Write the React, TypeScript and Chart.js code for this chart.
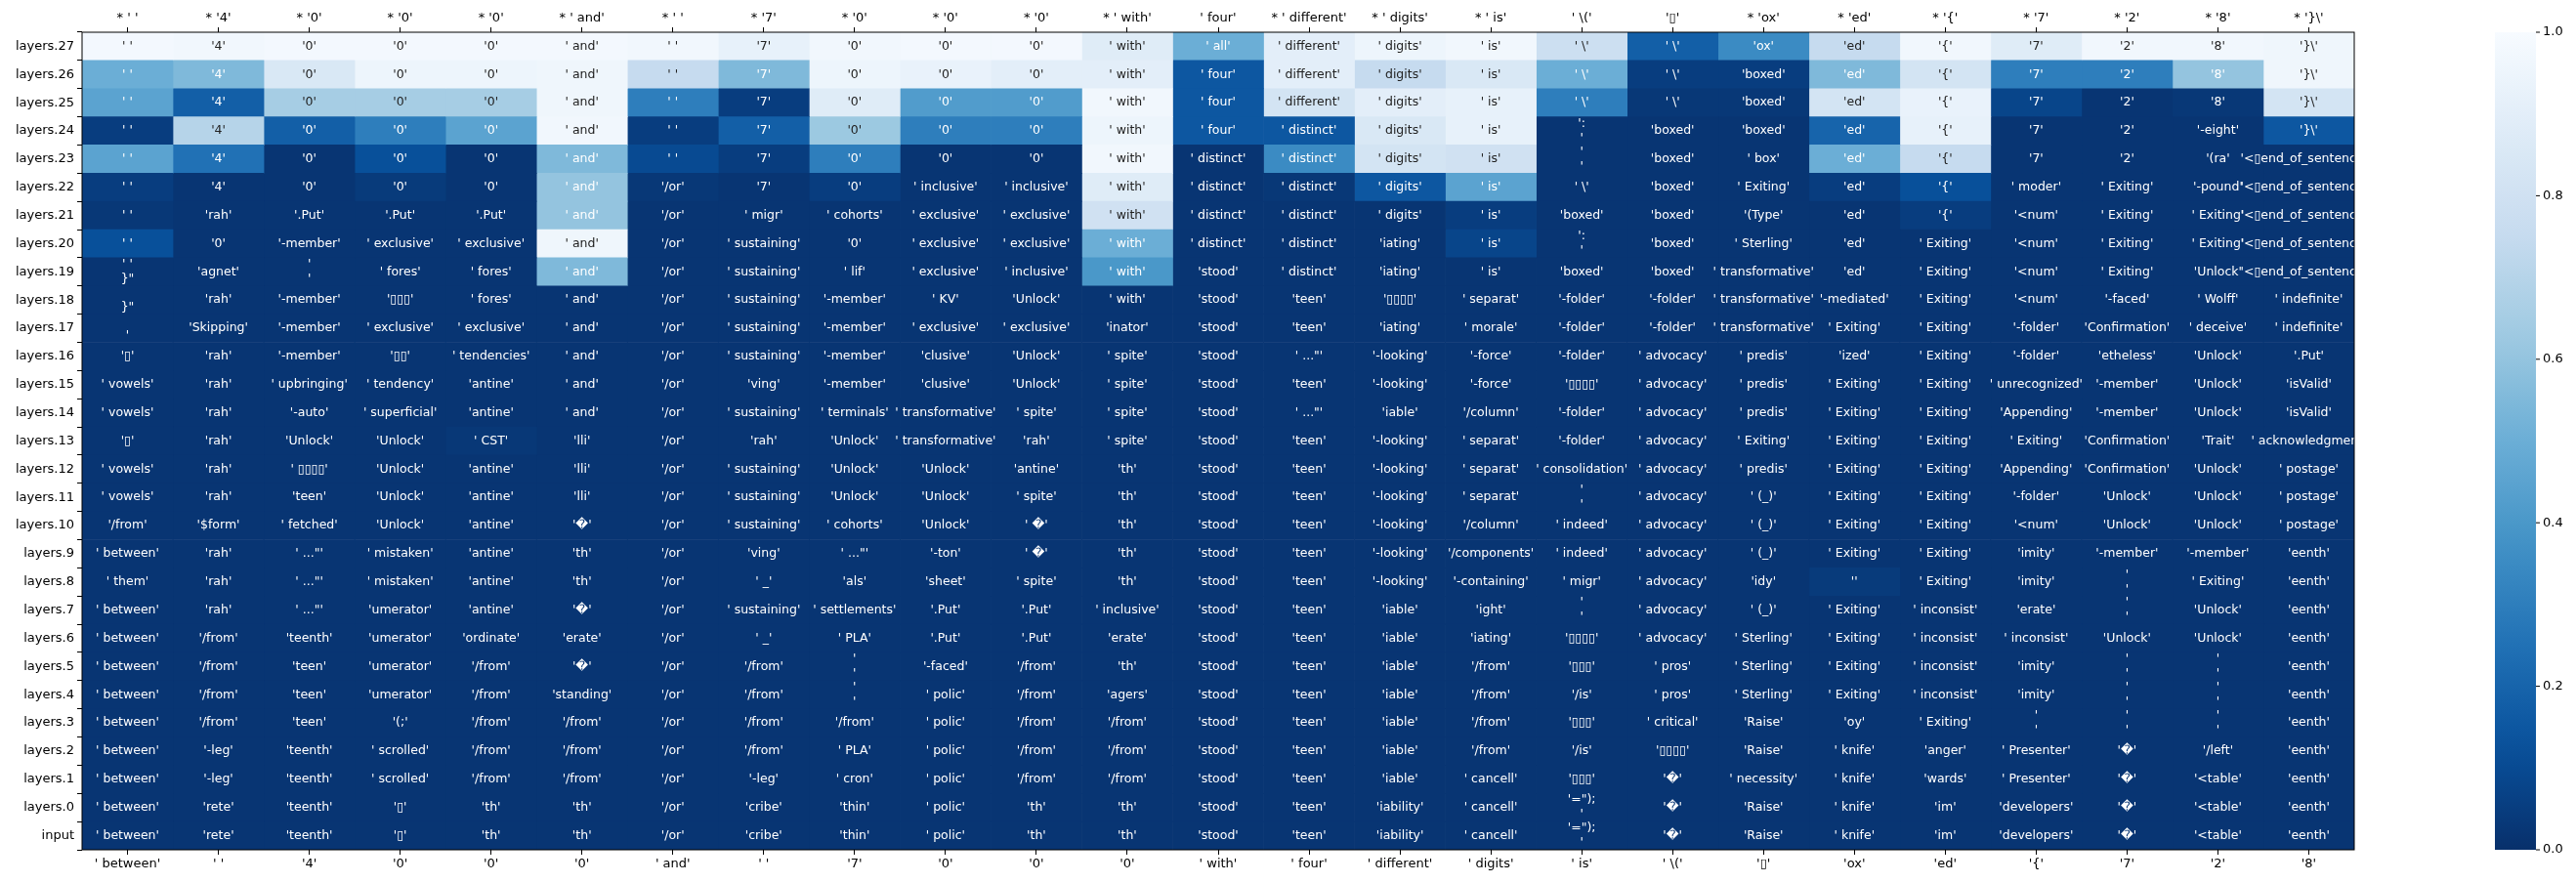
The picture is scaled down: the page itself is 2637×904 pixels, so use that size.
import { useEffect, useRef } from "react";
import { Chart, registerables } from "chart.js";

Chart.register(...registerables);

// linhas de cima para baixo
const ROWS = [
  "layers.27", "layers.26", "layers.25", "layers.24", "layers.23", "layers.22", "layers.21",
  "layers.20", "layers.19", "layers.18", "layers.17", "layers.16", "layers.15", "layers.14",
  "layers.13", "layers.12", "layers.11", "layers.10", "layers.9", "layers.8", "layers.7",
  "layers.6", "layers.5", "layers.4", "layers.3", "layers.2", "layers.1", "layers.0", "input",
];

const TOP_LABELS = [
  "* ' '", "* '4'", "* '0'", "* '0'", "* '0'", "* ' and'", "* ' '", "* '7'", "* '0'", "* '0'",
  "* '0'", "* ' with'", "' four'", "* ' different'", "* ' digits'", "* ' is'", "' \\('", "'▯'",
  "* 'ox'", "* 'ed'", "* '{'", "* '7'", "* '2'", "* '8'", "* '}\\'",
];

const BOTTOM_LABELS = [
  "' between'", "' '", "'4'", "'0'", "'0'", "'0'", "' and'", "' '", "'7'", "'0'", "'0'", "'0'",
  "' with'", "' four'", "' different'", "' digits'", "' is'", "' \\('", "'▯'", "'ox'", "'ed'",
  "'{'", "'7'", "'2'", "'8'",
];

const NL = "'\n'";

const TOKENS: string[][] = [
  ["' '", "'4'", "'0'", "'0'", "'0'", "' and'", "' '", "'7'", "'0'", "'0'", "'0'", "' with'", "' all'", "' different'", "' digits'", "' is'", "' \\'", "' \\'", "'ox'", "'ed'", "'{'", "'7'", "'2'", "'8'", "'}\\'"],
  ["' '", "'4'", "'0'", "'0'", "'0'", "' and'", "' '", "'7'", "'0'", "'0'", "'0'", "' with'", "' four'", "' different'", "' digits'", "' is'", "' \\'", "' \\'", "'boxed'", "'ed'", "'{'", "'7'", "'2'", "'8'", "'}\\'"],
  ["' '", "'4'", "'0'", "'0'", "'0'", "' and'", "' '", "'7'", "'0'", "'0'", "'0'", "' with'", "' four'", "' different'", "' digits'", "' is'", "' \\'", "' \\'", "'boxed'", "'ed'", "'{'", "'7'", "'2'", "'8'", "'}\\'"],
  ["' '", "'4'", "'0'", "'0'", "'0'", "' and'", "' '", "'7'", "'0'", "'0'", "'0'", "' with'", "' four'", "' distinct'", "' digits'", "' is'", "':\n'", "'boxed'", "'boxed'", "'ed'", "'{'", "'7'", "'2'", "'-eight'", "'}\\'"],
  ["' '", "'4'", "'0'", "'0'", "'0'", "' and'", "' '", "'7'", "'0'", "'0'", "'0'", "' with'", "' distinct'", "' distinct'", "' digits'", "' is'", NL, "'boxed'", "' box'", "'ed'", "'{'", "'7'", "'2'", "'(ra'", "'<▯end_of_sentence>'"],
  ["' '", "'4'", "'0'", "'0'", "'0'", "' and'", "'/or'", "'7'", "'0'", "' inclusive'", "' inclusive'", "' with'", "' distinct'", "' distinct'", "' digits'", "' is'", "' \\'", "'boxed'", "' Exiting'", "'ed'", "'{'", "' moder'", "' Exiting'", "'-pound'", "'<▯end_of_sentence>'"],
  ["' '", "'rah'", "'.Put'", "'.Put'", "'.Put'", "' and'", "'/or'", "' migr'", "' cohorts'", "' exclusive'", "' exclusive'", "' with'", "' distinct'", "' distinct'", "' digits'", "' is'", "'boxed'", "'boxed'", "'(Type'", "'ed'", "'{'", "'<num'", "' Exiting'", "' Exiting'", "'<▯end_of_sentence>'"],
  ["' '", "'0'", "'-member'", "' exclusive'", "' exclusive'", "' and'", "'/or'", "' sustaining'", "'0'", "' exclusive'", "' exclusive'", "' with'", "' distinct'", "' distinct'", "'iating'", "' is'", "':\n'", "'boxed'", "' Sterling'", "'ed'", "' Exiting'", "'<num'", "' Exiting'", "' Exiting'", "'<▯end_of_sentence>'"],
  ["' '\n}\"", "'agnet'", NL, "' fores'", "' fores'", "' and'", "'/or'", "' sustaining'", "' lif'", "' exclusive'", "' inclusive'", "' with'", "'stood'", "' distinct'", "'iating'", "' is'", "'boxed'", "'boxed'", "' transformative'", "'ed'", "' Exiting'", "'<num'", "' Exiting'", "'Unlock'", "'<▯end_of_sentence>'"],
  ["\n}\"", "'rah'", "'-member'", "'▯▯▯'", "' fores'", "' and'", "'/or'", "' sustaining'", "'-member'", "' KV'", "'Unlock'", "' with'", "'stood'", "'teen'", "'▯▯▯▯'", "' separat'", "'-folder'", "'-folder'", "' transformative'", "'-mediated'", "' Exiting'", "'<num'", "'-faced'", "' Wolff'", "' indefinite'"],
  ["\n'", "'Skipping'", "'-member'", "' exclusive'", "' exclusive'", "' and'", "'/or'", "' sustaining'", "'-member'", "' exclusive'", "' exclusive'", "'inator'", "'stood'", "'teen'", "'iating'", "' morale'", "'-folder'", "'-folder'", "' transformative'", "' Exiting'", "' Exiting'", "'-folder'", "'Confirmation'", "' deceive'", "' indefinite'"],
  ["'▯'", "'rah'", "'-member'", "'▯▯'", "' tendencies'", "' and'", "'/or'", "' sustaining'", "'-member'", "'clusive'", "'Unlock'", "' spite'", "'stood'", "' ...\"'", "'-looking'", "'-force'", "'-folder'", "' advocacy'", "' predis'", "'ized'", "' Exiting'", "'-folder'", "'etheless'", "'Unlock'", "'.Put'"],
  ["' vowels'", "'rah'", "' upbringing'", "' tendency'", "'antine'", "' and'", "'/or'", "'ving'", "'-member'", "'clusive'", "'Unlock'", "' spite'", "'stood'", "'teen'", "'-looking'", "'-force'", "'▯▯▯▯'", "' advocacy'", "' predis'", "' Exiting'", "' Exiting'", "' unrecognized'", "'-member'", "'Unlock'", "'isValid'"],
  ["' vowels'", "'rah'", "'-auto'", "' superficial'", "'antine'", "' and'", "'/or'", "' sustaining'", "' terminals'", "' transformative'", "' spite'", "' spite'", "'stood'", "' ...\"'", "'iable'", "'/column'", "'-folder'", "' advocacy'", "' predis'", "' Exiting'", "' Exiting'", "'Appending'", "'-member'", "'Unlock'", "'isValid'"],
  ["'▯'", "'rah'", "'Unlock'", "'Unlock'", "' CST'", "'lli'", "'/or'", "'rah'", "'Unlock'", "' transformative'", "'rah'", "' spite'", "'stood'", "'teen'", "'-looking'", "' separat'", "'-folder'", "' advocacy'", "' Exiting'", "' Exiting'", "' Exiting'", "' Exiting'", "'Confirmation'", "'Trait'", "' acknowledgment'"],
  ["' vowels'", "'rah'", "' ▯▯▯▯'", "'Unlock'", "'antine'", "'lli'", "'/or'", "' sustaining'", "'Unlock'", "'Unlock'", "'antine'", "'th'", "'stood'", "'teen'", "'-looking'", "' separat'", "' consolidation'", "' advocacy'", "' predis'", "' Exiting'", "' Exiting'", "'Appending'", "'Confirmation'", "'Unlock'", "' postage'"],
  ["' vowels'", "'rah'", "'teen'", "'Unlock'", "'antine'", "'lli'", "'/or'", "' sustaining'", "'Unlock'", "'Unlock'", "' spite'", "'th'", "'stood'", "'teen'", "'-looking'", "' separat'", NL, "' advocacy'", "' (_)'", "' Exiting'", "' Exiting'", "'-folder'", "'Unlock'", "'Unlock'", "' postage'"],
  ["'/from'", "'$form'", "' fetched'", "'Unlock'", "'antine'", "'�'", "'/or'", "' sustaining'", "' cohorts'", "'Unlock'", "' �'", "'th'", "'stood'", "'teen'", "'-looking'", "'/column'", "' indeed'", "' advocacy'", "' (_)'", "' Exiting'", "' Exiting'", "'<num'", "'Unlock'", "'Unlock'", "' postage'"],
  ["' between'", "'rah'", "' ...\"'", "' mistaken'", "'antine'", "'th'", "'/or'", "'ving'", "' ...\"'", "'-ton'", "' �'", "'th'", "'stood'", "'teen'", "'-looking'", "'/components'", "' indeed'", "' advocacy'", "' (_)'", "' Exiting'", "' Exiting'", "'imity'", "'-member'", "'-member'", "'eenth'"],
  ["' them'", "'rah'", "' ...\"'", "' mistaken'", "'antine'", "'th'", "'/or'", "' _'", "'als'", "'sheet'", "' spite'", "'th'", "'stood'", "'teen'", "'-looking'", "'-containing'", "' migr'", "' advocacy'", "'idy'", "''", "' Exiting'", "'imity'", NL, "' Exiting'", "'eenth'"],
  ["' between'", "'rah'", "' ...\"'", "'umerator'", "'antine'", "'�'", "'/or'", "' sustaining'", "' settlements'", "'.Put'", "'.Put'", "' inclusive'", "'stood'", "'teen'", "'iable'", "'ight'", NL, "' advocacy'", "' (_)'", "' Exiting'", "' inconsist'", "'erate'", NL, "'Unlock'", "'eenth'"],
  ["' between'", "'/from'", "'teenth'", "'umerator'", "'ordinate'", "'erate'", "'/or'", "' _'", "' PLA'", "'.Put'", "'.Put'", "'erate'", "'stood'", "'teen'", "'iable'", "'iating'", "'▯▯▯▯'", "' advocacy'", "' Sterling'", "' Exiting'", "' inconsist'", "' inconsist'", "'Unlock'", "'Unlock'", "'eenth'"],
  ["' between'", "'/from'", "'teen'", "'umerator'", "'/from'", "'�'", "'/or'", "'/from'", NL, "'-faced'", "'/from'", "'th'", "'stood'", "'teen'", "'iable'", "'/from'", "'▯▯▯'", "' pros'", "' Sterling'", "' Exiting'", "' inconsist'", "'imity'", NL, NL, "'eenth'"],
  ["' between'", "'/from'", "'teen'", "'umerator'", "'/from'", "'standing'", "'/or'", "'/from'", NL, "' polic'", "'/from'", "'agers'", "'stood'", "'teen'", "'iable'", "'/from'", "'/is'", "' pros'", "' Sterling'", "' Exiting'", "' inconsist'", "'imity'", NL, NL, "'eenth'"],
  ["' between'", "'/from'", "'teen'", "'(;'", "'/from'", "'/from'", "'/or'", "'/from'", "'/from'", "' polic'", "'/from'", "'/from'", "'stood'", "'teen'", "'iable'", "'/from'", "'▯▯▯'", "' critical'", "'Raise'", "'oy'", "' Exiting'", NL, NL, NL, "'eenth'"],
  ["' between'", "'-leg'", "'teenth'", "' scrolled'", "'/from'", "'/from'", "'/or'", "'/from'", "' PLA'", "' polic'", "'/from'", "'/from'", "'stood'", "'teen'", "'iable'", "'/from'", "'/is'", "'▯▯▯▯'", "'Raise'", "' knife'", "'anger'", "' Presenter'", "'�'", "'/left'", "'eenth'"],
  ["' between'", "'-leg'", "'teenth'", "' scrolled'", "'/from'", "'/from'", "'/or'", "'-leg'", "' cron'", "' polic'", "'/from'", "'/from'", "'stood'", "'teen'", "'iable'", "' cancell'", "'▯▯▯'", "'�'", "' necessity'", "' knife'", "'wards'", "' Presenter'", "'�'", "'<table'", "'eenth'"],
  ["' between'", "'rete'", "'teenth'", "'▯'", "'th'", "'th'", "'/or'", "'cribe'", "'thin'", "' polic'", "'th'", "'th'", "'stood'", "'teen'", "'iability'", "' cancell'", "'=\");\n'", "'�'", "'Raise'", "' knife'", "'im'", "'developers'", "'�'", "'<table'", "'eenth'"],
  ["' between'", "'rete'", "'teenth'", "'▯'", "'th'", "'th'", "'/or'", "'cribe'", "'thin'", "' polic'", "'th'", "'th'", "'stood'", "'teen'", "'iability'", "' cancell'", "'=\");\n'", "'�'", "'Raise'", "' knife'", "'im'", "'developers'", "'�'", "'<table'", "'eenth'"],
];

const d = 0.02;
const PROBS: number[][] = [
  [0.98, 0.97, 0.98, 0.98, 0.98, 0.98, 0.97, 0.92, 0.97, 0.98, 0.98, 0.88, 0.5, 0.9, 0.95, 0.97, 0.78, 0.18, 0.35, 0.75, 0.97, 0.88, 0.97, 0.97, 0.96],
  [0.5, 0.55, 0.85, 0.95, 0.95, 0.96, 0.75, 0.55, 0.95, 0.93, 0.9, 0.9, 0.15, 0.9, 0.75, 0.85, 0.5, 0.05, 0.05, 0.55, 0.82, 0.3, 0.3, 0.6, 0.96],
  [0.45, 0.18, 0.65, 0.65, 0.65, 0.96, 0.3, 0.05, 0.88, 0.42, 0.42, 0.97, 0.15, 0.82, 0.9, 0.92, 0.3, 0.03, 0.03, 0.82, 0.93, 0.08, d, 0.03, 0.82],
  [0.05, 0.7, 0.18, 0.3, 0.45, 0.97, 0.05, 0.18, 0.62, 0.3, 0.3, 0.95, 0.15, 0.15, 0.85, 0.92, d, d, d, 0.2, 0.92, d, d, d, 0.15],
  [0.45, 0.25, d, 0.12, d, 0.55, 0.1, 0.05, 0.3, d, d, 0.97, d, 0.35, 0.82, 0.8, d, d, d, 0.5, 0.75, d, d, d, d],
  [0.05, d, d, 0.04, d, 0.6, 0.03, d, 0.05, d, d, 0.88, d, 0.03, 0.15, 0.45, d, d, d, 0.05, 0.12, d, d, d, d],
  [0.03, d, d, d, d, 0.6, d, d, d, d, d, 0.8, d, d, d, 0.05, d, d, d, d, 0.05, d, d, d, d],
  [0.12, d, d, d, d, 0.96, d, d, d, d, d, 0.5, d, d, d, 0.08, d, d, d, d, d, d, d, d, d],
  [d, d, d, d, d, 0.55, d, d, d, d, d, 0.4, d, d, d, d, d, d, d, d, d, d, d, d, d],
  ...Array.from({ length: 20 }, () => Array(25).fill(d)),
];
// pequenas variações nas camadas baixas
PROBS[14][4] = 0.03;
PROBS[19][19] = 0.04;

const BLUES = ["#f7fbff", "#deebf7", "#c6dbef", "#9ecae1", "#6baed6", "#4292c6", "#2171b5", "#08519c", "#08306b"];

function hex(c: string) {
  return [1, 3, 5].map((i) => parseInt(c.slice(i, i + 2), 16));
}

// Blues_r: 0 = azul escuro, 1 = quase branco
function cmap(v: number) {
  const t = (1 - Math.max(0, Math.min(1, v))) * (BLUES.length - 1);
  const i = Math.min(Math.floor(t), BLUES.length - 2);
  const f = t - i;
  const a = hex(BLUES[i]);
  const b = hex(BLUES[i + 1]);
  const m = a.map((x, k) => Math.round(x + (b[k] - x) * f));
  return `rgb(${m[0]},${m[1]},${m[2]})`;
}

const FONT = "DejaVu Sans";

const cellText = {
  id: "cellText",
  afterDatasetsDraw(chart: any) {
    const { ctx, chartArea: a, scales } = chart;
    ctx.save();
    ctx.beginPath();
    ctx.rect(a.left, a.top, a.right - a.left, a.bottom - a.top);
    ctx.clip();
    ctx.font = `12.5px '${FONT}'`;
    ctx.textAlign = "center";
    ctx.textBaseline = "middle";
    TOKENS.forEach((row, i) => {
      row.forEach((tok, j) => {
        const x = scales.x.getPixelForValue(j + 0.5);
        const y = scales.y.getPixelForValue(i);
        ctx.fillStyle = PROBS[i][j] > 0.6 ? "#222" : "#fff";
        const lines = tok.split("\n");
        const lh = 15;
        lines.forEach((ln, k) => {
          ctx.fillText(ln, x, y + (k - (lines.length - 1) / 2) * lh);
        });
      });
    });
    ctx.restore();
    ctx.save();
    ctx.strokeStyle = "#000";
    ctx.lineWidth = 1;
    ctx.strokeRect(a.left, a.top, a.right - a.left, a.bottom - a.top);
    ctx.restore();

    // barra de cores
    const cx = 2554, cw = 42, top = a.top, bot = a.bottom;
    const g = ctx.createLinearGradient(0, bot, 0, top);
    for (let k = 0; k <= 20; k++) g.addColorStop(k / 20, cmap(k / 20));
    ctx.save();
    ctx.fillStyle = g;
    ctx.fillRect(cx, top, cw, bot - top);
    ctx.font = `13px '${FONT}'`;
    ctx.fillStyle = "#000";
    ctx.strokeStyle = "#000";
    ctx.textAlign = "left";
    ctx.textBaseline = "middle";
    [0, 0.2, 0.4, 0.6, 0.8, 1].forEach((v) => {
      const y = bot - v * (bot - top);
      ctx.beginPath();
      ctx.moveTo(cx + cw, y);
      ctx.lineTo(cx + cw + 4, y);
      ctx.stroke();
      ctx.fillText(v.toFixed(1), cx + cw + 7, y);
    });
    ctx.restore();
  },
};

export default function App() {
  const ref = useRef<HTMLCanvasElement>(null);

  useEffect(() => {
    document.body.style.margin = "0";
    if (!ref.current) return;
    const datasets = TOP_LABELS.map((_, j) => ({
      label: `c${j}`,
      data: ROWS.map(() => 1),
      backgroundColor: ROWS.map((_, i) => cmap(PROBS[i][j])),
      borderWidth: 0,
      barPercentage: 1,
      categoryPercentage: 1,
    }));
    const colTicks = (scale: any) => {
      scale.ticks = TOP_LABELS.map((_, i) => ({ value: i + 0.5 }));
    };
    const tickFont = { family: FONT, size: 13 };
    const chart = new Chart(ref.current, {
      type: "bar",
      data: { labels: ROWS, datasets },
      plugins: [cellText],
      options: {
        indexAxis: "y",
        animation: false,
        responsive: false,
        layout: { padding: { right: 227, left: 0, top: 0, bottom: 0 } },
        plugins: { legend: { display: false }, tooltip: { enabled: false } },
        scales: {
          x: {
            type: "linear",
            stacked: true,
            min: 0,
            max: 25,
            position: "bottom",
            afterBuildTicks: colTicks,
            afterFit: (s: any) => { s.height = 34; },
            grid: { drawOnChartArea: false, tickLength: 5, color: "#000" },
            border: { display: false },
            ticks: {
              autoSkip: false,
              maxRotation: 0,
              color: "#000",
              font: tickFont,
              padding: 2,
              callback: (_v: any, i: number) => BOTTOM_LABELS[i],
            },
          },
          x2: {
            type: "linear",
            min: 0,
            max: 25,
            position: "top",
            afterBuildTicks: colTicks,
            afterFit: (s: any) => { s.height = 33; },
            grid: { drawOnChartArea: false, tickLength: 5, color: "#000" },
            border: { display: false },
            ticks: {
              autoSkip: false,
              maxRotation: 0,
              color: "#000",
              font: tickFont,
              padding: 2,
              callback: (_v: any, i: number) => TOP_LABELS[i],
            },
          },
          y: {
            stacked: true,
            afterFit: (s: any) => { s.width = 84; },
            grid: { drawOnChartArea: false, tickLength: 5, color: "#000" },
            border: { display: false },
            ticks: { color: "#000", font: tickFont, padding: 3 },
          },
        },
      },
    });
    return () => chart.destroy();
  }, []);

  return <canvas ref={ref} width={2637} height={904} style={{ display: "block" }} />;
}
